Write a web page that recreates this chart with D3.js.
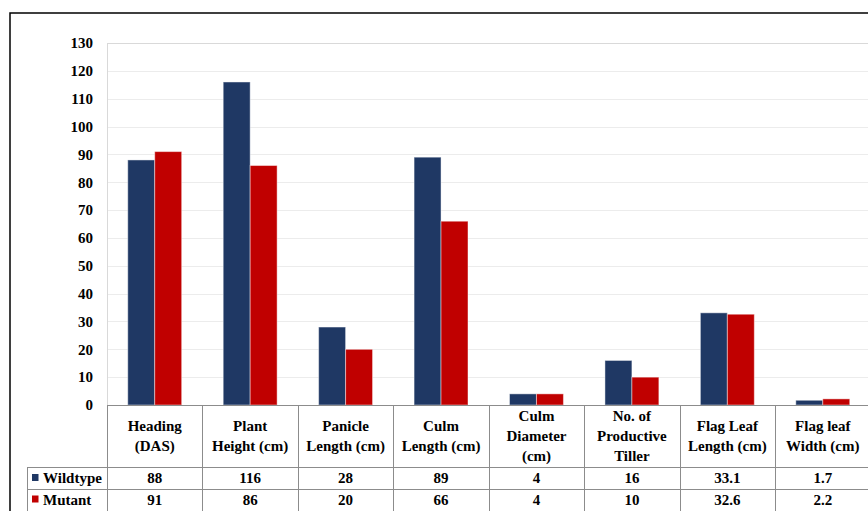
<!DOCTYPE html>
<html>
<head>
<meta charset="utf-8">
<script src="https://cdn.jsdelivr.net/npm/d3@7"></script>
<style>
  html, body { margin: 0; padding: 0; background: #fff; }
  svg { display: block; }
</style>
</head>
<body>
<svg id="chart" width="868" height="511"></svg>
<script>
// Categories (header lines of the data table)
const categories = [
  ["Heading", "(DAS)"],
  ["Plant", "Height (cm)"],
  ["Panicle", "Length (cm)"],
  ["Culm", "Length (cm)"],
  ["Culm", "Diameter", "(cm)"],
  ["No. of", "Productive", "Tiller"],
  ["Flag Leaf", "Length (cm)"],
  ["Flag leaf", "Width (cm)"]
];
const seriesNames = ["Wildtype", "Mutant"];
const seriesColors = ["#1f3864", "#c00000"];
const wildtype = [88, 116, 28, 89, 4, 16, 33.1, 1.7];
const mutant = [91, 86, 20, 66, 4, 10, 32.6, 2.2];
const yTicks = [0, 10, 20, 30, 40, 50, 60, 70, 80, 90, 100, 110, 120, 130];

const FONT = "'Liberation Serif', 'Times New Roman', Tinos, 'DejaVu Serif', serif";

const svg = d3.select("#chart")
  .style("font-family", FONT).style("font-weight", "bold");
const W = 868, H = 511;

const plotLeft = 107, plotRight = 870.5, plotTop = 43, plotBottom = 405;
const tableLeft = 27;
const headerBottom = 467, row1Bottom = 489, row2Bottom = 512;

const keys = categories.map((c, i) => "c" + i);
const x = d3.scaleBand().domain(keys).range([plotLeft, plotRight]).paddingInner(0).paddingOuter(0);
const xs = d3.scaleBand().domain(seriesNames).range([0, x.bandwidth()]).paddingInner(0).paddingOuter(0.77);
const y = d3.scaleLinear().domain([0, 130]).range([plotBottom, plotTop]);

function styleText(sel) {
  return sel.style("font-family", FONT).style("font-weight", "bold").style("font-size", "15px").attr("fill", "#000");
}

// outer frame
svg.append("rect").attr("x", 10).attr("y", 13).attr("width", W + 20).attr("height", H + 20)
  .attr("fill", "none").attr("stroke", "#000").attr("stroke-width", 1.5);

// gridlines
svg.append("g").selectAll("line").data(yTicks.filter(d => d > 0)).join("line")
  .attr("x1", plotLeft).attr("x2", W)
  .attr("y1", d => Math.round(y(d)) + 0.5).attr("y2", d => Math.round(y(d)) + 0.5)
  .attr("stroke", d => d === 130 ? "#d9d9d9" : "#ececec").attr("stroke-width", 1);

// y axis
const yAxis = d3.axisLeft(y).tickValues(yTicks).tickSize(0).tickPadding(14);
const gy = svg.append("g").attr("transform", `translate(${plotLeft},0)`).call(yAxis);
gy.attr("font-family", null).attr("font-size", null);
gy.select(".domain").attr("stroke", "#d9d9d9");
styleText(gy.selectAll("text"));

// bars
const data = seriesNames.map((s, si) => ({ name: s, color: seriesColors[si], values: si === 0 ? wildtype : mutant }));
const gBars = svg.append("g");
data.forEach(s => {
  gBars.append("g").selectAll("rect").data(s.values).join("rect")
    .attr("x", (d, i) => x(keys[i]) + xs(s.name))
    .attr("width", xs.bandwidth())
    .attr("y", d => y(d))
    .attr("height", d => y(0) - y(d))
    .attr("fill", s.color)
    .attr("stroke", "rgba(255,255,255,0.45)").attr("stroke-width", 1);
});

// table lines
const lineColor = "#8c8c8c";
const tl = svg.append("g").attr("stroke", lineColor).attr("stroke-width", 1);
tl.append("line").attr("x1", plotLeft).attr("x2", W).attr("y1", plotBottom + 0.5).attr("y2", plotBottom + 0.5);
tl.append("line").attr("x1", tableLeft).attr("x2", W).attr("y1", headerBottom + 0.5).attr("y2", headerBottom + 0.5);
tl.append("line").attr("x1", tableLeft).attr("x2", W).attr("y1", row1Bottom + 0.5).attr("y2", row1Bottom + 0.5);
tl.append("line").attr("x1", tableLeft + 0.5).attr("x2", tableLeft + 0.5).attr("y1", headerBottom).attr("y2", H);
keys.forEach(k => {
  const xx = Math.round(x(k)) + 0.5;
  tl.append("line").attr("x1", xx).attr("x2", xx).attr("y1", plotBottom).attr("y2", H);
});

// header text
const headerMid = (plotBottom + headerBottom) / 2 + 5;
categories.forEach((lines, i) => {
  const cx = x(keys[i]) + x.bandwidth() / 2;
  const t = styleText(svg.append("text").attr("text-anchor", "middle"));
  lines.forEach((ln, j) => {
    t.append("tspan").attr("x", cx)
      .attr("y", headerMid + (j - (lines.length - 1) / 2) * 20)
      .text(ln);
  });
});

// value rows with legend keys
const rowMids = [(headerBottom + row1Bottom) / 2 + 5, (row1Bottom + row2Bottom) / 2 + 4];
data.forEach((s, si) => {
  svg.append("rect").attr("x", 32).attr("y", rowMids[si] - 9).attr("width", 6.5).attr("height", 7).attr("fill", s.color);
  styleText(svg.append("text").attr("x", 43).attr("y", rowMids[si])).text(s.name);
  styleText(svg.append("g").selectAll("text").data(s.values).join("text")
    .attr("x", (d, i) => x(keys[i]) + x.bandwidth() / 2)
    .attr("y", rowMids[si])
    .attr("text-anchor", "middle"))
    .text(d => d);
});
</script>
</body>
</html>
